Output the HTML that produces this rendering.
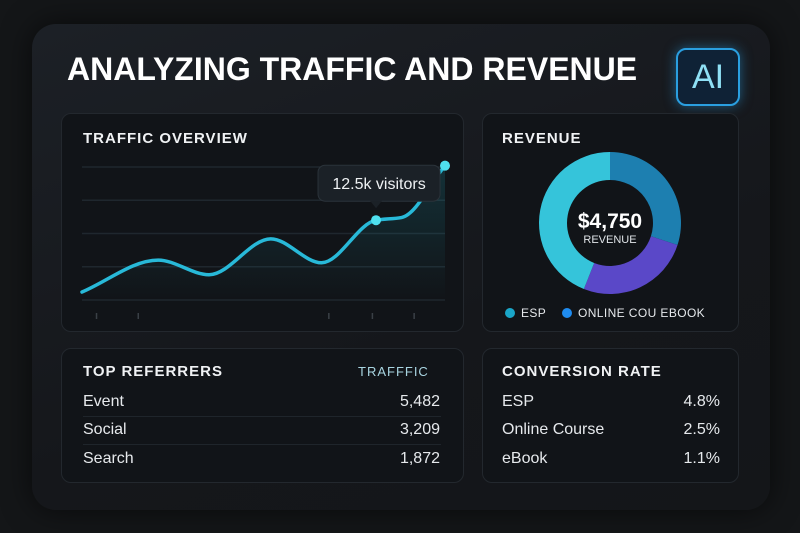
<!DOCTYPE html>
<html><head><meta charset="utf-8"><style>
*{margin:0;padding:0;box-sizing:border-box}
body{width:800px;height:533px;background:#141618;font-family:"Liberation Sans",sans-serif;position:relative;overflow:hidden;color:#e8ecef}
.card{position:absolute;left:32px;top:24px;width:738px;height:486px;border-radius:24px;background:linear-gradient(160deg,#1c2026,#15171b 60%,#141619);box-shadow:0 0 30px rgba(0,0,0,.6)}
.panel{position:absolute;border-radius:10px;background:#111418;border:1px solid #23282e}
.ttl{position:absolute;font-weight:bold;font-size:15px;letter-spacing:1px;color:#f0f2f4}
.row{position:absolute;font-size:16px;color:#e6e9ec}
.sep{position:absolute;height:1px;background:#1f252b}
</style></head><body>
<div class="card"></div>
<div style="position:absolute;left:67px;top:51px;font-size:32px;font-weight:bold;color:#fff;letter-spacing:0px">ANALYZING TRAFFIC AND REVENUE</div>
<div style="position:absolute;left:676px;top:48px;width:64px;height:58px;border-radius:10px;border:2px solid #2a9fe0;background:#0f2236;color:#8fe0f5;font-size:34px;text-align:center;line-height:54px;box-shadow:0 0 12px rgba(40,160,230,.5)">AI</div>

<div class="panel" style="left:61px;top:113px;width:403px;height:219px"></div>
<div class="ttl" style="left:83px;top:130px">TRAFFIC OVERVIEW</div>
<svg id="lc" style="position:absolute;left:0;top:0" width="800" height="533"></svg>

<div class="panel" style="left:482px;top:113px;width:257px;height:219px"></div>
<div class="ttl" style="left:502px;top:130px">REVENUE</div>
<svg id="dc" style="position:absolute;left:0;top:0" width="800" height="533"></svg>
<div style="position:absolute;left:569px;top:210px;width:82px;text-align:center;font-weight:bold;font-size:21px;color:#fff">$4,750</div>
<div style="position:absolute;left:569px;top:234px;width:82px;text-align:center;font-size:11px;color:#e0e4e8">REVENUE</div>
<div style="position:absolute;left:505px;top:308px;width:10px;height:10px;border-radius:50%;background:#1aa6c8"></div>
<div style="position:absolute;left:521px;top:306px;font-size:12px;letter-spacing:.4px;color:#e6e9ec">ESP</div>
<div style="position:absolute;left:562px;top:308px;width:10px;height:10px;border-radius:50%;background:#1f8cf0"></div>
<div style="position:absolute;left:578px;top:306px;font-size:12px;letter-spacing:.4px;color:#e6e9ec">ONLINE COU EBOOK</div>

<div class="panel" style="left:61px;top:348px;width:403px;height:135px"></div>
<div class="ttl" style="left:83px;top:363px">TOP REFERRERS</div>
<div style="position:absolute;left:358px;top:364px;font-size:13px;letter-spacing:1px;color:#a8d4e0">TRAFFFIC</div>
<div class="row" style="left:83px;top:393px">Event</div><div class="row" style="left:340px;width:100px;text-align:right;top:393px">5,482</div>
<div class="sep" style="left:83px;top:416px;width:358px"></div>
<div class="row" style="left:83px;top:421px">Social</div><div class="row" style="left:340px;width:100px;text-align:right;top:421px">3,209</div>
<div class="sep" style="left:83px;top:444px;width:358px"></div>
<div class="row" style="left:83px;top:450px">Search</div><div class="row" style="left:340px;width:100px;text-align:right;top:450px">1,872</div>

<div class="panel" style="left:482px;top:348px;width:257px;height:135px"></div>
<div class="ttl" style="left:502px;top:363px">CONVERSION RATE</div>
<div class="row" style="left:502px;top:393px">ESP</div><div class="row" style="left:620px;width:100px;text-align:right;top:393px">4.8%</div>
<div class="row" style="left:502px;top:421px">Online Course</div><div class="row" style="left:620px;width:100px;text-align:right;top:421px">2.5%</div>
<div class="row" style="left:502px;top:450px">eBook</div><div class="row" style="left:620px;width:100px;text-align:right;top:450px">1.1%</div>

<script>
const xVals=[0,2.1,3.5,5.2,6.6,8.1,8.8,10];
const yVals=[6,30,19,46,28,60,62,101];
const gridVals=[0,25,50,75,100];
const tickX=[0.4,1.55,6.8,8,9.15];
const highlight=5;
const tipLabel="12.5k visitors";
const revLabels=["Course","eBook","ESP"];
const revVals=[30,26,44];
const revColors=["#1d7fb0","#5a48c8","#35c4da"];

const NS="http://www.w3.org/2000/svg";
function mk(p,t,a){const e=document.createElementNS(NS,t);for(const k in a)e.setAttribute(k,a[k]);p.appendChild(e);return e;}
const sx=v=>82+v*36.3, sy=v=>300-v*1.33;
const lc=document.getElementById('lc');
const defs=mk(lc,'defs',{});
const g=mk(defs,'linearGradient',{id:'ar',x1:0,y1:0,x2:0,y2:1});
mk(g,'stop',{offset:0,'stop-color':'#1fb5c9','stop-opacity':.18});
mk(g,'stop',{offset:1,'stop-color':'#1fb5c9','stop-opacity':0});
gridVals.forEach(v=>{const l=mk(lc,'line',{x1:82,x2:445,y1:sy(v),y2:sy(v),stroke:'#1f272e','stroke-width':1.5});

});
tickX.forEach(v=>{const l=mk(lc,'line',{x1:sx(v),x2:sx(v),y1:313,y2:319,stroke:'#3a4046','stroke-width':1.5});

});
const P=xVals.map((x,i)=>[sx(x),sy(yVals[i])]);
// monotone cubic
const n=P.length,dx=[],m=[],t=[];
for(let i=0;i<n-1;i++){dx[i]=P[i+1][0]-P[i][0];m[i]=(P[i+1][1]-P[i][1])/dx[i];}
t[0]=m[0];t[n-1]=m[n-2];
for(let i=1;i<n-1;i++){t[i]=(m[i-1]*m[i]<=0)?0:3*(dx[i-1]+dx[i])/((2*dx[i]+dx[i-1])/m[i-1]+(dx[i]+2*dx[i-1])/m[i]);}
let d=`M${P[0][0]},${P[0][1]}`;
for(let i=0;i<n-1;i++){const h=dx[i]/3;
d+=` C${P[i][0]+h},${P[i][1]+t[i]*h} ${P[i+1][0]-h},${P[i+1][1]-t[i+1]*h} ${P[i+1][0]},${P[i+1][1]}`;}
const area=mk(lc,'path',{d:d+` L${P[n-1][0]},300 L${P[0][0]},300 Z`,fill:'url(#ar)'});


const line=mk(lc,'path',{d:d,fill:'none',stroke:'#28b9d8','stroke-width':3.5,'stroke-linecap':'round'});


const hp=P[highlight];
const tip=mk(lc,'rect',{x:hp[0]-58,y:hp[1]-55,width:122,height:36,rx:7,fill:'#1b2127',stroke:'#2b333a'});


mk(lc,'path',{d:`M${hp[0]-6},${hp[1]-19.5} L${hp[0]},${hp[1]-12} L${hp[0]+6},${hp[1]-19.5}Z`,fill:'#1b2127'});
const tt=mk(lc,'text',{x:hp[0]+3,y:hp[1]-31,'text-anchor':'middle','font-size':16,fill:'#eef1f3','font-family':'Liberation Sans'});
tt.textContent=tipLabel;


[P[highlight],P[n-1]].forEach(p=>{const c=mk(lc,'circle',{cx:p[0],cy:p[1],r:5,fill:'#4fe0ef'});

});

const dc=document.getElementById('dc');
const cx=610,cy=223,R=71,r=43;const tot=revVals.reduce((a,b)=>a+b,0);let a0=0;
revVals.forEach((v,i)=>{const a1=a0+v/tot*2*Math.PI;
const pt=(rad,a)=>[cx+rad*Math.sin(a),cy-rad*Math.cos(a)];const lg=a1-a0>Math.PI?1:0;
const [x1,y1]=pt(R,a0),[x2,y2]=pt(R,a1),[x3,y3]=pt(r,a1),[x4,y4]=pt(r,a0);
const s=mk(dc,'path',{d:`M${x1},${y1} A${R},${R} 0 ${lg} 1 ${x2},${y2} L${x3},${y3} A${r},${r} 0 ${lg} 0 ${x4},${y4}Z`,fill:revColors[i]});


a0=a1;});
</script>
</body></html>
